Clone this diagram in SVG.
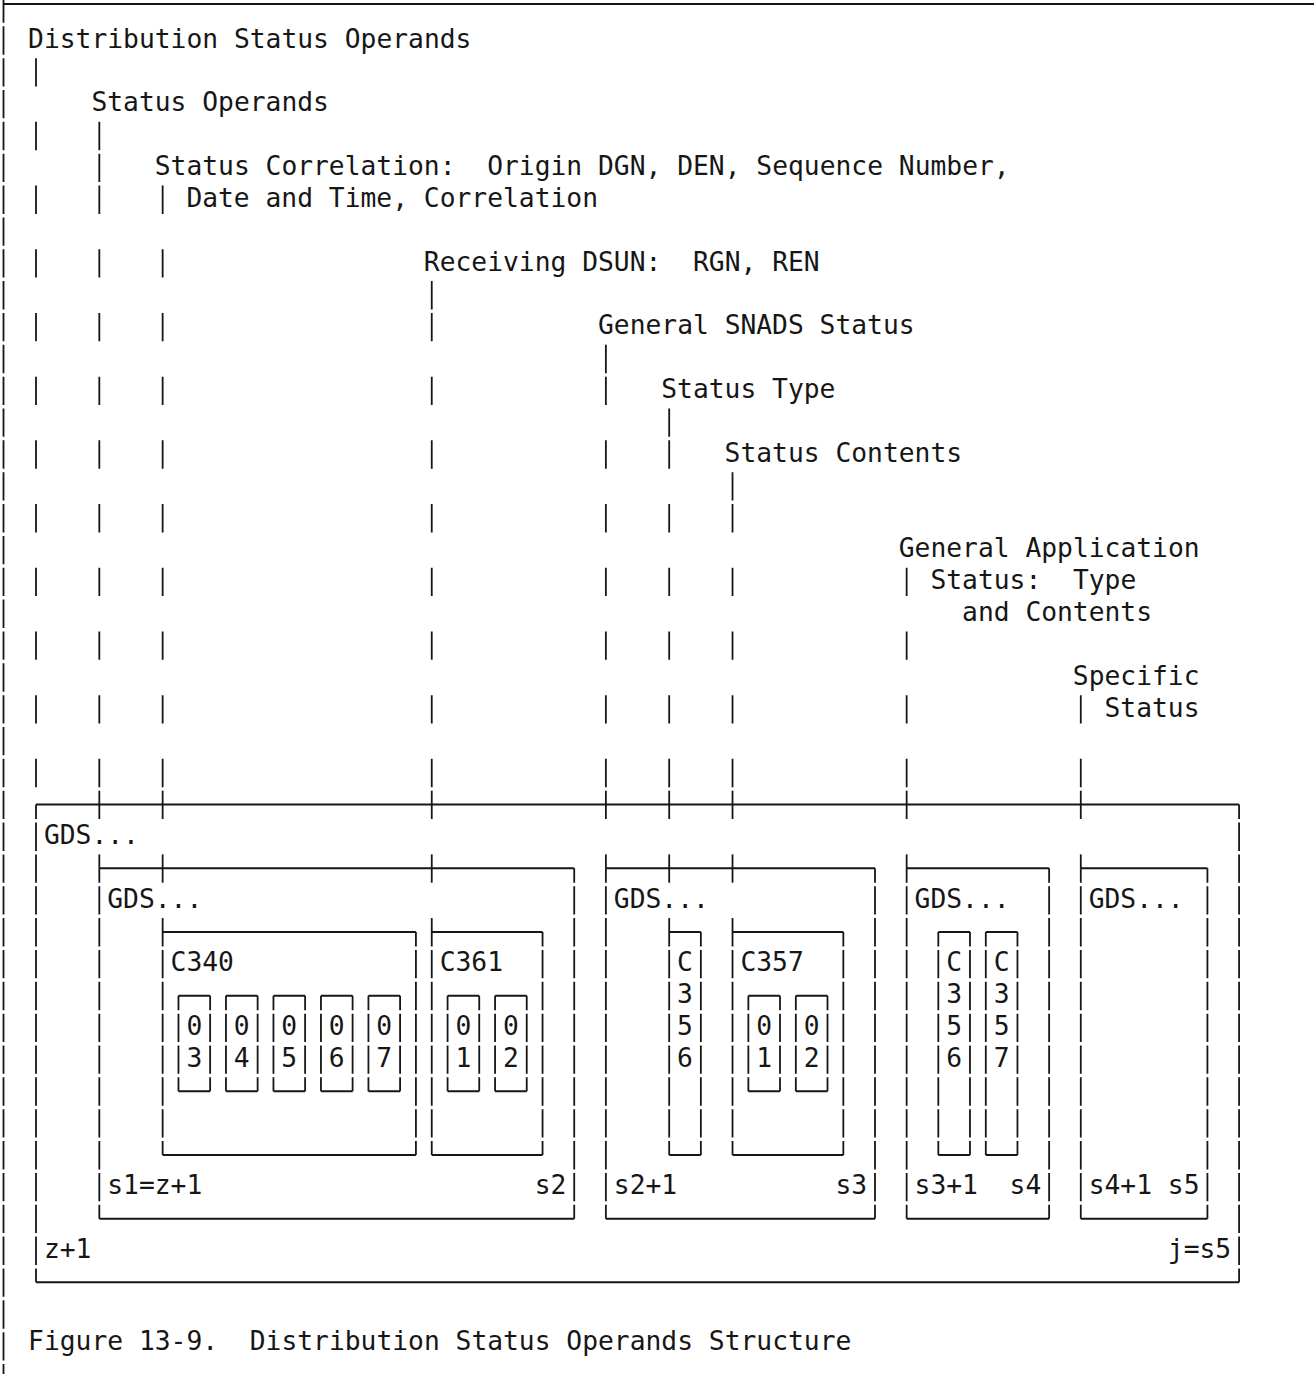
<svg xmlns="http://www.w3.org/2000/svg" width="1314" height="1374" viewBox="0 0 1314 1374">
<style>
.t{font-family:"DejaVu Sans Mono","Liberation Mono",monospace;font-size:26.3px;fill:#161616}
.c{text-anchor:middle}
line,path{stroke:#161616;stroke-width:1.8;fill:none}
.h{stroke-width:2}
.v{stroke-dasharray:28.35 3.5}
.vc{stroke-dasharray:28.35 3.5;stroke-dashoffset:13.925}
.o{stroke-dasharray:28.35 35.35}
</style>
<rect width="1314" height="1374" fill="#ffffff"/>
<g id="frame">
<path class="h" d="M3 4H1314"/>
<line class="v" x1="3.5" y1="-5.575" x2="3.5" y2="1374"/>
</g>
<g id="connectors">
<line class="o" x1="36" y1="58.125" x2="36" y2="787.175"/>
<line class="v" x1="99.32" y1="121.825" x2="99.32" y2="213.875"/>
<line class="o" x1="99.32" y1="249.225" x2="99.32" y2="787.175"/>
<line x1="99.32" y1="790.675" x2="99.32" y2="819.025"/>
<line x1="99.32" y1="854.375" x2="99.32" y2="868.3"/>
<line class="o" x1="162.64" y1="185.525" x2="162.64" y2="787.175"/>
<line x1="162.64" y1="790.675" x2="162.64" y2="819.025"/>
<line x1="162.64" y1="854.375" x2="162.64" y2="882.725"/>
<line x1="162.64" y1="918.075" x2="162.64" y2="932"/>
<line class="v" x1="431.75" y1="281.075" x2="431.75" y2="341.275"/>
<line class="o" x1="431.75" y1="376.625" x2="431.75" y2="787.175"/>
<line x1="431.75" y1="790.675" x2="431.75" y2="819.025"/>
<line x1="431.75" y1="854.375" x2="431.75" y2="882.725"/>
<line x1="431.75" y1="918.075" x2="431.75" y2="932"/>
<line class="v" x1="605.88" y1="344.775" x2="605.88" y2="404.975"/>
<line class="o" x1="605.88" y1="440.325" x2="605.88" y2="787.175"/>
<line x1="605.88" y1="790.675" x2="605.88" y2="819.025"/>
<line x1="605.88" y1="854.375" x2="605.88" y2="868.3"/>
<line class="v" x1="669.2" y1="408.475" x2="669.2" y2="468.675"/>
<line class="o" x1="669.2" y1="504.025" x2="669.2" y2="787.175"/>
<line x1="669.2" y1="790.675" x2="669.2" y2="819.025"/>
<line x1="669.2" y1="854.375" x2="669.2" y2="882.725"/>
<line x1="669.2" y1="918.075" x2="669.2" y2="932"/>
<line class="v" x1="732.52" y1="472.175" x2="732.52" y2="532.375"/>
<line class="o" x1="732.52" y1="567.725" x2="732.52" y2="787.175"/>
<line x1="732.52" y1="790.675" x2="732.52" y2="819.025"/>
<line x1="732.52" y1="854.375" x2="732.52" y2="882.725"/>
<line x1="732.52" y1="918.075" x2="732.52" y2="932"/>
<line class="o" x1="906.65" y1="567.725" x2="906.65" y2="787.175"/>
<line x1="906.65" y1="790.675" x2="906.65" y2="819.025"/>
<line x1="906.65" y1="854.375" x2="906.65" y2="868.3"/>
<line class="o" x1="1080.78" y1="695.125" x2="1080.78" y2="787.175"/>
<line x1="1080.78" y1="790.675" x2="1080.78" y2="819.025"/>
<line x1="1080.78" y1="854.375" x2="1080.78" y2="868.3"/>
</g>
<g id="label-dso"><text class="t" x="28.09" y="47.7">Distribution Status Operands</text></g>
<g id="label-so"><text class="t" x="91.4" y="111.4">Status Operands</text></g>
<g id="label-sc"><text class="t" x="154.73" y="175.1" xml:space="preserve">Status Correlation:  Origin DGN, DEN, Sequence Number,</text>
<text class="t" x="186.39" y="206.95">Date and Time, Correlation</text></g>
<g id="label-rd"><text class="t" x="423.84" y="270.65" xml:space="preserve">Receiving DSUN:  RGN, REN</text></g>
<g id="label-gss"><text class="t" x="597.97" y="334.35">General SNADS Status</text></g>
<g id="label-st"><text class="t" x="661.29" y="398.05">Status Type</text></g>
<g id="label-sct"><text class="t" x="724.61" y="461.75">Status Contents</text></g>
<g id="label-gas"><text class="t" x="898.74" y="557.3">General Application</text>
<text class="t" x="930.4" y="589.15" xml:space="preserve">Status:  Type</text>
<text class="t" x="962.06" y="621">and Contents</text></g>
<g id="label-ss"><text class="t" x="1072.87" y="684.7">Specific</text>
<text class="t" x="1104.53" y="716.55">Status</text></g>
<g id="node-outer">
<path class="h" d="M36 804.6H1239.08M36 1282.35H1239.08"/>
<line class="vc" x1="36" y1="804.6" x2="36" y2="1282.35"/>
<line class="vc" x1="1239.08" y1="804.6" x2="1239.08" y2="1282.35"/>
<text class="t" x="43.92" y="843.95">GDS...</text>
<text class="t" x="43.92" y="1258">z+1</text>
<text class="t" x="1167.85" y="1258">j=s5</text>
</g>
<g id="node-gds1">
<path class="h" d="M99.32 868.3H574.22M99.32 1218.65H574.22"/>
<line class="vc" x1="99.32" y1="868.3" x2="99.32" y2="1218.65"/>
<line class="vc" x1="574.22" y1="868.3" x2="574.22" y2="1218.65"/>
<text class="t" x="107.24" y="907.65">GDS...</text>
<text class="t" x="107.24" y="1194.3">s1=z+1</text>
<text class="t" x="534.65" y="1194.3">s2</text>
</g>
<g id="node-gds2">
<path class="h" d="M605.88 868.3H874.99M605.88 1218.65H874.99"/>
<line class="vc" x1="605.88" y1="868.3" x2="605.88" y2="1218.65"/>
<line class="vc" x1="874.99" y1="868.3" x2="874.99" y2="1218.65"/>
<text class="t" x="613.8" y="907.65">GDS...</text>
<text class="t" x="613.8" y="1194.3">s2+1</text>
<text class="t" x="835.42" y="1194.3">s3</text>
</g>
<g id="node-gds3">
<path class="h" d="M906.65 868.3H1049.12M906.65 1218.65H1049.12"/>
<line class="vc" x1="906.65" y1="868.3" x2="906.65" y2="1218.65"/>
<line class="vc" x1="1049.12" y1="868.3" x2="1049.12" y2="1218.65"/>
<text class="t" x="914.57" y="907.65">GDS...</text>
<text class="t" x="914.57" y="1194.3">s3+1</text>
<text class="t" x="1009.55" y="1194.3">s4</text>
</g>
<g id="node-gds4">
<path class="h" d="M1080.78 868.3H1207.42M1080.78 1218.65H1207.42"/>
<line class="vc" x1="1080.78" y1="868.3" x2="1080.78" y2="1218.65"/>
<line class="vc" x1="1207.42" y1="868.3" x2="1207.42" y2="1218.65"/>
<text class="t" x="1088.7" y="907.65">GDS...</text>
<text class="t" x="1088.7" y="1194.3">s4+1</text>
<text class="t" x="1167.85" y="1194.3">s5</text>
</g>
<g id="node-c340">
<path class="h" d="M162.64 932H415.92M162.64 1154.95H415.92"/>
<line class="vc" x1="162.64" y1="932" x2="162.64" y2="1154.95"/>
<line class="vc" x1="415.92" y1="932" x2="415.92" y2="1154.95"/>
<text class="t" x="170.56" y="971.35">C340</text>
</g>
<g id="node-c361">
<path class="h" d="M431.75 932H542.56M431.75 1154.95H542.56"/>
<line class="vc" x1="431.75" y1="932" x2="431.75" y2="1154.95"/>
<line class="vc" x1="542.56" y1="932" x2="542.56" y2="1154.95"/>
<text class="t" x="439.67" y="971.35">C361</text>
</g>
<g id="node-c356a">
<path class="h" d="M669.2 932H700.86M669.2 1154.95H700.86"/>
<line class="vc" x1="669.2" y1="932" x2="669.2" y2="1154.95"/>
<line class="vc" x1="700.86" y1="932" x2="700.86" y2="1154.95"/>
<text class="t c" x="685.03" y="971.35">C</text>
<text class="t c" x="685.03" y="1003.2">3</text>
<text class="t c" x="685.03" y="1035.05">5</text>
<text class="t c" x="685.03" y="1066.9">6</text>
</g>
<g id="node-c357a">
<path class="h" d="M732.52 932H843.33M732.52 1154.95H843.33"/>
<line class="vc" x1="732.52" y1="932" x2="732.52" y2="1154.95"/>
<line class="vc" x1="843.33" y1="932" x2="843.33" y2="1154.95"/>
<text class="t" x="740.44" y="971.35">C357</text>
</g>
<g id="node-c356b">
<path class="h" d="M938.31 932H969.97M938.31 1154.95H969.97"/>
<line class="vc" x1="938.31" y1="932" x2="938.31" y2="1154.95"/>
<line class="vc" x1="969.97" y1="932" x2="969.97" y2="1154.95"/>
<text class="t c" x="954.14" y="971.35">C</text>
<text class="t c" x="954.14" y="1003.2">3</text>
<text class="t c" x="954.14" y="1035.05">5</text>
<text class="t c" x="954.14" y="1066.9">6</text>
</g>
<g id="node-c357b">
<path class="h" d="M985.8 932H1017.46M985.8 1154.95H1017.46"/>
<line class="vc" x1="985.8" y1="932" x2="985.8" y2="1154.95"/>
<line class="vc" x1="1017.46" y1="932" x2="1017.46" y2="1154.95"/>
<text class="t c" x="1001.63" y="971.35">C</text>
<text class="t c" x="1001.63" y="1003.2">3</text>
<text class="t c" x="1001.63" y="1035.05">5</text>
<text class="t c" x="1001.63" y="1066.9">7</text>
</g>
<g id="node-03">
<path class="h" d="M178.47 995.7H210.13M178.47 1091.25H210.13"/>
<line class="vc" x1="178.47" y1="995.7" x2="178.47" y2="1091.25"/>
<line class="vc" x1="210.13" y1="995.7" x2="210.13" y2="1091.25"/>
<text class="t c" x="194.3" y="1035.05">0</text>
<text class="t c" x="194.3" y="1066.9">3</text>
</g>
<g id="node-04">
<path class="h" d="M225.96 995.7H257.62M225.96 1091.25H257.62"/>
<line class="vc" x1="225.96" y1="995.7" x2="225.96" y2="1091.25"/>
<line class="vc" x1="257.62" y1="995.7" x2="257.62" y2="1091.25"/>
<text class="t c" x="241.79" y="1035.05">0</text>
<text class="t c" x="241.79" y="1066.9">4</text>
</g>
<g id="node-05">
<path class="h" d="M273.45 995.7H305.11M273.45 1091.25H305.11"/>
<line class="vc" x1="273.45" y1="995.7" x2="273.45" y2="1091.25"/>
<line class="vc" x1="305.11" y1="995.7" x2="305.11" y2="1091.25"/>
<text class="t c" x="289.28" y="1035.05">0</text>
<text class="t c" x="289.28" y="1066.9">5</text>
</g>
<g id="node-06">
<path class="h" d="M320.94 995.7H352.6M320.94 1091.25H352.6"/>
<line class="vc" x1="320.94" y1="995.7" x2="320.94" y2="1091.25"/>
<line class="vc" x1="352.6" y1="995.7" x2="352.6" y2="1091.25"/>
<text class="t c" x="336.77" y="1035.05">0</text>
<text class="t c" x="336.77" y="1066.9">6</text>
</g>
<g id="node-07">
<path class="h" d="M368.43 995.7H400.09M368.43 1091.25H400.09"/>
<line class="vc" x1="368.43" y1="995.7" x2="368.43" y2="1091.25"/>
<line class="vc" x1="400.09" y1="995.7" x2="400.09" y2="1091.25"/>
<text class="t c" x="384.26" y="1035.05">0</text>
<text class="t c" x="384.26" y="1066.9">7</text>
</g>
<g id="node-361-01">
<path class="h" d="M447.58 995.7H479.24M447.58 1091.25H479.24"/>
<line class="vc" x1="447.58" y1="995.7" x2="447.58" y2="1091.25"/>
<line class="vc" x1="479.24" y1="995.7" x2="479.24" y2="1091.25"/>
<text class="t c" x="463.41" y="1035.05">0</text>
<text class="t c" x="463.41" y="1066.9">1</text>
</g>
<g id="node-361-02">
<path class="h" d="M495.07 995.7H526.73M495.07 1091.25H526.73"/>
<line class="vc" x1="495.07" y1="995.7" x2="495.07" y2="1091.25"/>
<line class="vc" x1="526.73" y1="995.7" x2="526.73" y2="1091.25"/>
<text class="t c" x="510.9" y="1035.05">0</text>
<text class="t c" x="510.9" y="1066.9">2</text>
</g>
<g id="node-357-01">
<path class="h" d="M748.35 995.7H780.01M748.35 1091.25H780.01"/>
<line class="vc" x1="748.35" y1="995.7" x2="748.35" y2="1091.25"/>
<line class="vc" x1="780.01" y1="995.7" x2="780.01" y2="1091.25"/>
<text class="t c" x="764.18" y="1035.05">0</text>
<text class="t c" x="764.18" y="1066.9">1</text>
</g>
<g id="node-357-02">
<path class="h" d="M795.84 995.7H827.5M795.84 1091.25H827.5"/>
<line class="vc" x1="795.84" y1="995.7" x2="795.84" y2="1091.25"/>
<line class="vc" x1="827.5" y1="995.7" x2="827.5" y2="1091.25"/>
<text class="t c" x="811.67" y="1035.05">0</text>
<text class="t c" x="811.67" y="1066.9">2</text>
</g>
<g id="caption"><text class="t" x="28.09" y="1350" xml:space="preserve">Figure 13-9.  Distribution Status Operands Structure</text></g>
</svg>
